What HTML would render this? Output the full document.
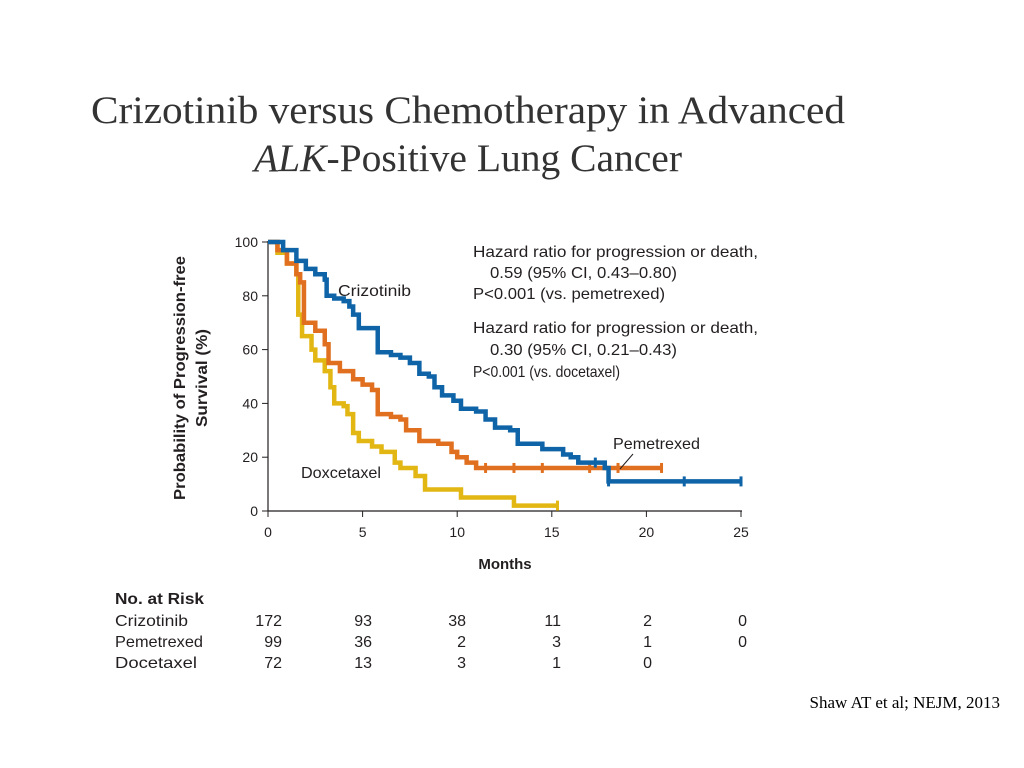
<!DOCTYPE html>
<html><head><meta charset="utf-8">
<style>
body{margin:0;width:1024px;height:768px;background:#fff;overflow:hidden;font-family:"Liberation Sans",sans-serif;}
svg{position:absolute;left:0;top:0}
text{}
</style></head>
<body>
<svg id="chart" width="1024" height="768">
<text x="468" y="123" text-anchor="middle" font-family="Liberation Serif,serif" font-size="39" fill="#333" textLength="754" lengthAdjust="spacingAndGlyphs">Crizotinib versus Chemotherapy in Advanced</text>
<text x="468" y="171" text-anchor="middle" font-family="Liberation Serif,serif" font-size="39" fill="#333" textLength="428" lengthAdjust="spacingAndGlyphs"><tspan font-style="italic">ALK</tspan>-Positive Lung Cancer</text>
<g id="axes"></g>
<g id="series"></g>
<text x="338" y="296" font-size="16" fill="#231f20" textLength="73" lengthAdjust="spacingAndGlyphs">Crizotinib</text>
<text x="301" y="478" font-size="16" fill="#231f20" textLength="80" lengthAdjust="spacingAndGlyphs">Doxcetaxel</text>
<text x="613" y="449" font-size="16" fill="#231f20" textLength="87" lengthAdjust="spacingAndGlyphs">Pemetrexed</text>
<line x1="633" y1="454" x2="620" y2="469" stroke="#231f20" stroke-width="1"/>
<g font-size="16" fill="#231f20">
<text x="473" y="257" textLength="285" lengthAdjust="spacingAndGlyphs">Hazard ratio for progression or death,</text>
<text x="490" y="278" textLength="187" lengthAdjust="spacingAndGlyphs">0.59 (95% CI, 0.43–0.80)</text>
<text x="473" y="299" textLength="192" lengthAdjust="spacingAndGlyphs">P&lt;0.001 (vs. pemetrexed)</text>
<text x="473" y="333" textLength="285" lengthAdjust="spacingAndGlyphs">Hazard ratio for progression or death,</text>
<text x="490" y="355" textLength="187" lengthAdjust="spacingAndGlyphs">0.30 (95% CI, 0.21–0.43)</text>
<text x="473" y="377" textLength="147" lengthAdjust="spacingAndGlyphs">P&lt;0.001 (vs. docetaxel)</text>
</g>
<text transform="translate(185,378) rotate(-90)" text-anchor="middle" font-size="16" font-weight="bold" fill="#231f20" textLength="244" lengthAdjust="spacingAndGlyphs">Probability of Progression-free</text>
<text transform="translate(207,378) rotate(-90)" text-anchor="middle" font-size="16" font-weight="bold" fill="#231f20" textLength="98" lengthAdjust="spacingAndGlyphs">Survival (%)</text>
<text x="505" y="569" text-anchor="middle" font-size="15" font-weight="bold" fill="#231f20">Months</text>
<g id="risk" font-size="16" fill="#231f20"></g>
<text x="1000" y="708" text-anchor="end" font-family="Liberation Serif,serif" font-size="17" fill="#000">Shaw AT et al; NEJM, 2013</text>
</svg>
<script>
const xTicks=[0,5,10,15,20,25];
const yTicks=[0,20,40,60,80,100];
const crizT=[0,0.8,1.5,2,2.5,3,3.1,3.5,4,4.3,4.5,4.8,5.6,5.8,6.5,7,7.5,8,8.5,8.8,9.2,9.8,10.2,11,11.5,12,12.8,13.2,14,14.5,15.2,15.6,16,16.4,17.8,18,25];
const crizS=[100,97,93,90,88,86,80,79,78,76,73,68,68,59,58,57,55,51,50,46,43,41,38,37,34,31,30,25,25,23,23,21,20,18,16,11,11];
const pemeT=[0,0.5,1,1.5,1.7,1.9,2.5,3,3.2,3.8,4.5,5,5.5,5.8,6.5,7,7.3,8,9,9.7,10,10.5,11,20.8];
const pemeS=[100,97,92,88,85,70,67,62,55,52,49,47,45,36,35,34,30,26,25,22,20,18,16,16];
const doceT=[0,0.5,1,1.5,1.6,1.8,2.3,2.5,3,3.3,3.5,4,4.2,4.5,4.8,5.5,6,6.7,7,7.8,8.3,10,10.2,12.8,13,15.3];
const doceS=[100,96,92,88,73,65,60,56,52,46,40,39,36,29,26,24,22,18,16,13,8,8,5,5,2,2];
const crizCens=[17.3,18,22,25];
const pemeCens=[11.5,13,14.5,17,18.5,20.8];
const doceCens=[15.3];
const riskRows=['Crizotinib','Pemetrexed','Docetaxel'];
const riskCriz=[172,93,38,11,2,0];
const riskPeme=[99,36,2,3,1,0];
const riskDoce=[72,13,3,1,0];
const NS='http://www.w3.org/2000/svg';
const X=m=>268+m*(741-268)/25;
const Y=p=>511-p*(511-242)/100;
function mk(t,a,parent){const e=document.createElementNS(NS,t);for(const k in a)e.setAttribute(k,a[k]);parent.appendChild(e);return e;}
const ax=document.getElementById('axes');
let l=mk('line',{x1:268,y1:241,x2:268,y2:511,stroke:'#231f20','stroke-width':1.2},ax);

l=mk('line',{x1:268,y1:511,x2:742,y2:511,stroke:'#231f20','stroke-width':1.2},ax);

yTicks.forEach(v=>{mk('line',{x1:262,y1:Y(v),x2:268,y2:Y(v),stroke:'#231f20'},ax);
 const t=mk('text',{x:258,y:Y(v)+5,'text-anchor':'end','font-size':14,fill:'#231f20'},ax);t.textContent=v;
 });
xTicks.forEach(v=>{mk('line',{x1:X(v),y1:511,x2:X(v),y2:517,stroke:'#231f20'},ax);
 const t=mk('text',{x:X(v),y:537,'text-anchor':'middle','font-size':14,fill:'#231f20'},ax);t.textContent=v;
 });
const sg=document.getElementById('series');
function stepAt(T,S,m){let s=S[0];for(let i=0;i<T.length;i++){if(T[i]<=m)s=S[i];}return s;}
function draw(T,S,C,col,name){
 let d='M'+X(T[0])+','+Y(S[0]);
 for(let i=1;i<T.length;i++){d+=' H'+X(T[i])+' V'+Y(S[i]);}
 const p=mk('path',{d:d,fill:'none',stroke:col,'stroke-width':4.5,'stroke-linejoin':'miter'},sg);
 
 C.forEach(m=>{const y=Y(stepAt(T,S,m));const c=mk('path',{d:`M${X(m)},${y-5}V${y+5}`,stroke:col,'stroke-width':3},sg);
  });
}
draw(doceT,doceS,doceCens,'#e2b613','docetaxel');
draw(pemeT,pemeS,pemeCens,'#e07020','pemetrexed');
draw(crizT,crizS,crizCens,'#0f64a8','crizotinib');
const rg=document.getElementById('risk');
let h=mk('text',{x:115,y:604,'font-weight':'bold',textLength:89,lengthAdjust:'spacingAndGlyphs'},rg);h.textContent='No. at Risk';

const riskVals=[riskCriz,riskPeme,riskDoce];
const labelW=[73,88,82];
const colX=[282,372,466,561,652,747];
riskRows.forEach((r,i)=>{const y=626+i*21;
 let t=mk('text',{x:115,y:y,textLength:labelW[i],lengthAdjust:'spacingAndGlyphs'},rg);t.textContent=r;
 riskVals[i].forEach((v,j)=>{const n=mk('text',{x:colX[j],y:y,'text-anchor':'end'},rg);n.textContent=v;
  });});
</script>
</body></html>
